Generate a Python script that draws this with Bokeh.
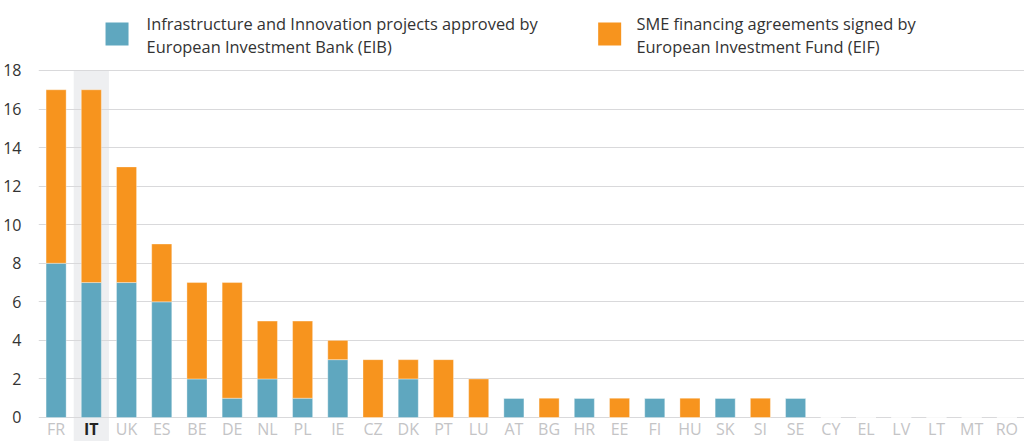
from bokeh.plotting import figure
from bokeh.models import FactorRange, Range1d, FixedTicker, ColumnDataSource
from bokeh.core.properties import value
from bokeh.embed import file_html
from bokeh.resources import INLINE

countries = ["FR", "IT", "UK", "ES", "BE", "DE", "NL", "PL", "IE", "CZ", "DK", "PT", "LU", "AT",
             "BG", "HR", "EE", "FI", "HU", "SK", "SI", "SE", "CY", "EL", "LV", "LT", "MT", "RO"]
eib = [8, 7, 7, 6, 2, 1, 2, 1, 3, 0, 2, 0, 0, 1, 0, 1, 0, 1, 0, 1, 0, 1, 0, 0, 0, 0, 0, 0]
eif = [9, 10, 6, 3, 5, 6, 3, 4, 1, 3, 1, 3, 2, 0, 1, 0, 1, 0, 1, 0, 1, 0, 0, 0, 0, 0, 0, 0]
highlight = "IT"
series_names = ["Infrastructure and Innovation projects approved by\nEuropean Investment Bank (EIB)",
                "SME financing agreements signed by\nEuropean Investment Fund (EIF)"]
y_ticks = [0, 2, 4, 6, 8, 10, 12, 14, 16, 18]

BLUE = "#5fa7bf"
ORANGE = "#f7941e"
FONT = "Open Sans"

Y_MIN, Y_MAX = -1.245, 21.631

source = ColumnDataSource(dict(country=countries, eib=eib, eif=eif))

p = figure(x_range=FactorRange(factors=countries, range_padding=0),
           y_range=Range1d(Y_MIN, Y_MAX),
           width=1024, height=441, output_backend="svg", toolbar_location=None,
           min_border_left=38, min_border_right=0, min_border_top=0, min_border_bottom=0)

# highlight band behind IT
band = p.vbar(x=[highlight], top=[max(y_ticks)], bottom=[Y_MIN], width=1.0,
              fill_color="#eeeff1", line_color=None)
band.level = "image"

p.vbar_stack(["eib", "eif"], x="country", width=0.57, source=source,
             color=[BLUE, ORANGE], line_color="white", line_alpha=0.35, line_width=1)

# axes / grid
p.xaxis.visible = False
p.xgrid.grid_line_color = None
p.ygrid.ticker = FixedTicker(ticks=y_ticks)
p.ygrid.grid_line_color = "#d9d9db"
p.ygrid.grid_line_width = 1.2
p.yaxis.ticker = FixedTicker(ticks=y_ticks)
p.yaxis.axis_line_color = None
p.yaxis.major_tick_line_color = None
p.yaxis.minor_tick_line_color = None
p.yaxis.major_label_standoff = 11
p.yaxis.major_label_text_font = FONT
p.yaxis.major_label_text_font_size = "16px"
p.yaxis.major_label_text_color = "#333333"
p.outline_line_color = None
p.background_fill_color = "white"

# category labels
label_y = -0.62
others = [c for c in countries if c != highlight]
p.text(x=others, y=[label_y] * len(others), text=others, text_align="center",
       text_baseline="middle", text_font=value(FONT), text_font_size="16px",
       text_color="#c4c4c6")
p.text(x=[highlight], y=[label_y], text=[highlight], text_align="center",
       text_baseline="middle", text_font=value(FONT), text_font_size="16px",
       text_font_style="bold", text_color="#222222")

# legend (drawn manually)
leg_sq_x = [2.23, 16.22]
leg_tx_x = [3.07, 16.98]
leg_y = 19.893
for sx, tx, col, name in zip(leg_sq_x, leg_tx_x, [BLUE, ORANGE], series_names):
    p.rect(x=[sx], y=[leg_y], width=23, height=23, width_units="screen",
           height_units="screen", fill_color=col, line_color=None)
    lines = name.split("\n")
    p.text(x=[tx, tx], y=[20.438, 19.245], text=lines,
           text_align="left", text_baseline="middle", text_font=value(FONT),
           text_font_size="16.4px", text_color="#333333")

open("out.html", "w").write(file_html(p, INLINE))
